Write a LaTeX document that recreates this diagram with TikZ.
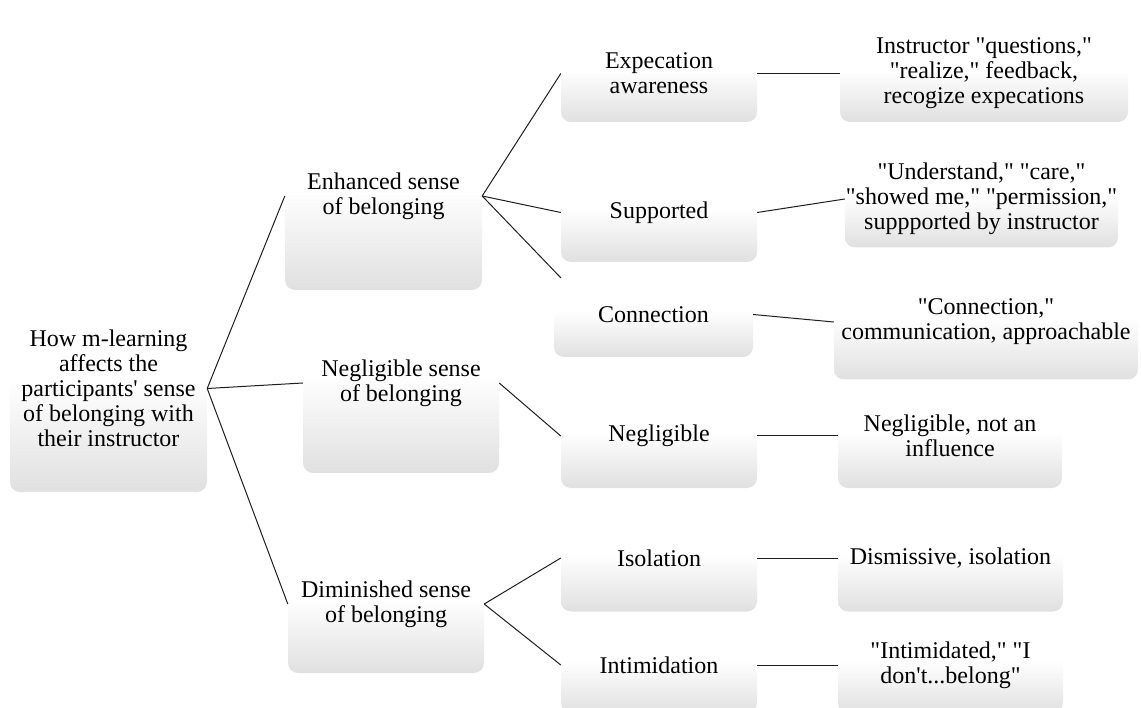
\documentclass[tikz,border=0pt]{standalone}
\usepackage{fontspec}
\setmainfont{Liberation Serif}

\definecolor{fadegray}{RGB}{224,224,224}
\definecolor{linkgray}{RGB}{30,30,30}
% white upper half, light grey towards the bottom edge
\pgfdeclareverticalshading{softfade}{100bp}{color(0bp)=(fadegray); color(25bp)=(fadegray); color(52bp)=(white); color(100bp)=(white)}

% straight double quote
\newcommand{\qq}{\textquotedbl}

\tikzset{
  card/.style={rectangle, rounded corners=10pt, shading=softfade, inner sep=0pt,
    align=center, font=\fontsize{24}{25}\selectfont},
  link/.style={draw=linkgray, line width=1pt}
}

\begin{document}
\begin{tikzpicture}[x=1pt, y=-1pt]
\useasboundingbox (0,0) rectangle (1141,708);

% root
\node[card, minimum width=197pt, minimum height=207pt] (root) at (108.5,388.5)
  {How m-learning\\affects the\\participants\textquotesingle\ sense\\of belonging with\\their instructor};

% second level
\node[card, minimum width=197pt, minimum height=188pt] (enh) at (383.5,196)
  {Enhanced sense\\of belonging};
\node[card, minimum width=196pt, minimum height=180pt] (negs) at (401,383)
  {Negligible sense\\of belonging};
\node[card, minimum width=196pt, minimum height=138pt] (dim) at (386,604)
  {Diminished sense\\of belonging};

% third level
\node[card, minimum width=196pt, minimum height=97pt] (exp) at (659,73.5)
  {Expecation\\awareness};
\node[card, minimum width=196pt, minimum height=99pt] (sup) at (659,212.5)
  {Supported};
\node[card, minimum width=199pt, minimum height=85pt] (con) at (653.5,314.5)
  {Connection};
\node[card, minimum width=196pt, minimum height=104pt] (neg) at (659,436)
  {Negligible};
\node[card, minimum width=196pt, minimum height=107pt] (iso) at (659,558)
  {Isolation};
\node[card, minimum width=196pt, minimum height=96pt] (inti) at (659,665)
  {Intimidation};

% fourth level
\node[card, minimum width=288pt, minimum height=97pt] (expR) at (984,73.5)
  {Instructor \qq questions,\qq\\\qq realize,\qq\ feedback,\\recogize expecations};
\node[card, minimum width=273pt, minimum height=97pt] (supR) at (981.5,199)
  {\qq Understand,\qq\ \qq care,\qq\\\qq showed me,\qq\ \qq permission,\qq\\suppported by instructor};
\node[card, minimum width=304pt, minimum height=115pt] (conR) at (986,322)
  {\qq Connection,\qq\\communication, approachable};
\node[card, minimum width=224pt, minimum height=104pt] (negR) at (950,436)
  {Negligible, not an\\influence};
\node[card, minimum width=225pt, minimum height=107pt] (isoR) at (950.5,558)
  {Dismissive, isolation};
\node[card, minimum width=225pt, minimum height=96pt] (intiR) at (950.5,665)
  {\qq Intimidated,\qq\ \qq I\\don\textquotesingle t...belong\qq};

\coordinate (conIn) at (561,278);

% connectors
\draw[link] (root.east) -- (enh.west);
\draw[link] (root.east) -- (negs.west);
\draw[link] (root.east) -- (dim.west);
\draw[link] (enh.east) -- (exp.west);
\draw[link] (enh.east) -- (sup.west);
\draw[link] (enh.east) -- (conIn);
\draw[link] (negs.east) -- (neg.west);
\draw[link] (dim.east) -- (iso.west);
\draw[link] (dim.east) -- (inti.west);
\draw[link] (exp.east) -- (expR.west);
\draw[link] (sup.east) -- (supR.west);
\draw[link] (con.east) -- (conR.west);
\draw[link] (neg.east) -- (negR.west);
\draw[link] (iso.east) -- (isoR.west);
\draw[link] (inti.east) -- (intiR.west);
\end{tikzpicture}
\end{document}
